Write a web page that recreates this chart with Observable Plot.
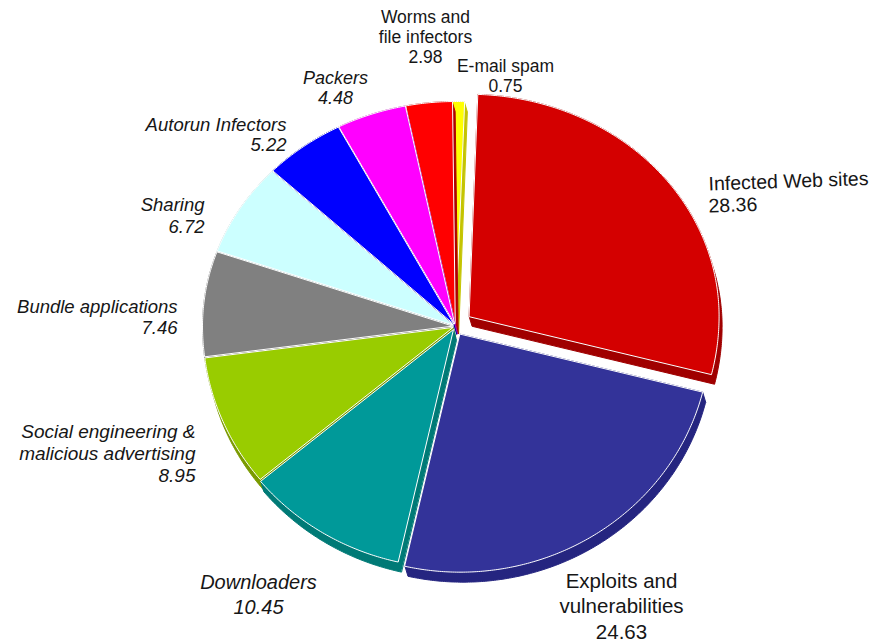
<!DOCTYPE html>
<html>
<head>
<meta charset="utf-8">
<script src="https://cdn.jsdelivr.net/npm/d3@7"></script>
<script src="https://cdn.jsdelivr.net/npm/@observablehq/plot@0.6"></script>
<style>
  html, body { margin: 0; padding: 0; background: #ffffff; }
  #chart svg { display: block; }
</style>
</head>
<body>
<div id="chart"></div>
<script>
// ---------- DATA ----------
const categories = [
  "Infected Web sites",
  "Exploits and\nvulnerabilities",
  "Downloaders",
  "Social engineering &\nmalicious advertising",
  "Bundle applications",
  "Sharing",
  "Autorun Infectors",
  "Packers",
  "Worms and\nfile infectors",
  "E-mail spam"
];
const values = [28.36, 24.63, 10.45, 8.95, 7.46, 6.72, 5.22, 4.48, 2.98, 0.75];

// ---------- STYLE / LAYOUT ----------
const topColors  = ["#d40000", "#333399", "#009999", "#99cc00", "#808080", "#ccffff", "#0000ff", "#ff00ff", "#ff0000", "#ffff00"];
const sideColors = ["#a00000", "#252580", "#007a76", "#7a9a00", "#606060", "#9cd0d0", "#00009c", "#a800a8", "#b00000", "#c4c400"];
const explode    = [17, 9, 4, 3, 3, 3, 3, 3, 3, 3];
const CX = 455, CY = 326, RX = 250, RY_TOP = 222, RY_BOT = 238;
const DEPTH = [3, 10];
const START = 2 * Math.PI / 180;

// label placement: x, first baseline y, anchor, italic, font size, line height, rotation
const labelLayout = [
  {x: 708, y: 190, anchor: "start",  italic: false, size: 19.5, lh: 22,   rotate: -2},
  {x: 621, y: 587, anchor: "middle", italic: false, size: 20.5, lh: 25.5, rotate: 0},
  {x: 258, y: 588, anchor: "middle", italic: true,  size: 20,   lh: 25,   rotate: 0},
  {x: 195, y: 437, anchor: "end",    italic: true,  size: 19,   lh: 22,   rotate: 0},
  {x: 177, y: 312, anchor: "end",    italic: true,  size: 18.5, lh: 21,   rotate: 0},
  {x: 204, y: 210, anchor: "end",    italic: true,  size: 18.5, lh: 22,   rotate: 0},
  {x: 286, y: 130, anchor: "end",    italic: true,  size: 18.5, lh: 20,   rotate: 0},
  {x: 335, y: 83,  anchor: "middle", italic: true,  size: 18,   lh: 20,   rotate: 0},
  {x: 425, y: 22,  anchor: "middle", italic: false, size: 17.5, lh: 20,   rotate: 0},
  {x: 505, y: 71,  anchor: "middle", italic: false, size: 17.5, lh: 20,   rotate: 0}
];

// ---------- GEOMETRY (derived from values) ----------
const total = d3.sum(values);
function proj(a, ox, oy) {
  const s = Math.sin(a), c = Math.cos(a);
  const ry = c > 0 ? RY_TOP : RY_BOT;
  return [CX + ox + RX * s, CY + oy - ry * c];
}
let acc = 0;
const slices = values.map((v, i) => {
  const a0 = START + acc / total * 2 * Math.PI;
  acc += v;
  const a1 = START + acc / total * 2 * Math.PI;
  const mid = (a0 + a1) / 2;
  const ox = explode[i] * Math.sin(mid), oy = -explode[i] * Math.cos(mid);
  const pts = [[CX + ox, CY + oy]];
  const n = Math.max(2, Math.ceil((a1 - a0) / (0.5 * Math.PI / 180)));
  for (let k = 0; k <= n; k++) pts.push(proj(a0 + (a1 - a0) * k / n, ox, oy));
  const shifted = pts.map(([x, y]) => [x + DEPTH[0], y + DEPTH[1]]);
  const side = d3.polygonHull(pts.concat(shifted));
  const midY = proj(mid, ox, oy)[1];
  return {i, pts, side, midY};
});

// back-to-front order
const order = slices.slice().sort((a, b) => a.midY - b.midY);
const polyData = [];
for (const s of order) {
  for (const [x, y] of s.side) polyData.push({key: "side-" + s.i, x, y, fill: sideColors[s.i], stroke: sideColors[s.i]});
  for (const [x, y] of s.pts) polyData.push({key: "top-" + s.i, x, y, fill: topColors[s.i], stroke: "#ffffff"});
}

// label rows
const labelRows = [];
categories.forEach((name, i) => {
  const L = labelLayout[i];
  const lines = name.split("\n").concat([values[i].toFixed(2)]);
  lines.forEach((t, k) => {
    const base = L.y + k * L.lh;
    labelRows.push({text: t, x: L.x, y: base - 0.32 * L.size, size: L.size, anchor: L.anchor, italic: L.italic, rotate: L.rotate});
  });
});

function textMark(filter, anchor, italic, rotate) {
  return Plot.text(labelRows.filter(filter), {
    x: "x", y: "y", text: "text", fontSize: "size",
    textAnchor: anchor, fontStyle: italic ? "italic" : "normal",
    rotate: rotate, fill: "#161616",
    fontFamily: "Liberation Sans, Arial, sans-serif"
  });
}
const combos = [];
labelRows.forEach(r => {
  const key = r.anchor + "|" + r.italic + "|" + r.rotate;
  if (!combos.find(c => c.key === key)) combos.push({key, anchor: r.anchor, italic: r.italic, rotate: r.rotate});
});

const chart = Plot.plot({
  width: 881,
  height: 641,
  margin: 0,
  style: {background: "#ffffff", fontFamily: "Liberation Sans, Arial, sans-serif"},
  x: {domain: [0, 881], range: [0, 881], axis: null},
  y: {domain: [0, 641], range: [0, 641], axis: null},
  color: {type: "identity"},
  marks: [
    Plot.line(polyData, {
      x: "x", y: "y", z: "key", fill: "fill", stroke: "stroke",
      strokeWidth: 1, curve: "linear-closed", strokeLinejoin: "round"
    }),
    ...combos.map(c => textMark(r => r.anchor === c.anchor && r.italic === c.italic && r.rotate === c.rotate, c.anchor, c.italic, c.rotate))
  ]
});
document.getElementById("chart").appendChild(chart);
</script>
</body>
</html>
